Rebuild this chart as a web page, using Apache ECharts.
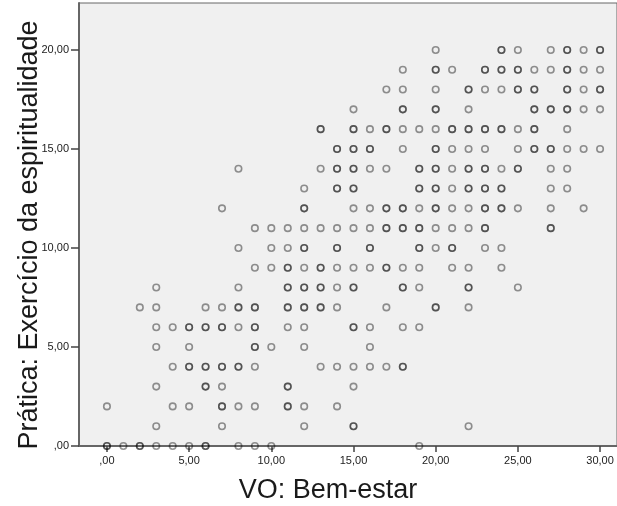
<!DOCTYPE html>
<html>
<head>
<meta charset="utf-8">
<script src="https://cdn.jsdelivr.net/npm/echarts@6/dist/echarts.min.js"></script>
<style>
    html, body { margin: 0; padding: 0; background: #fff; }
    #chart { width: 617px; height: 506px; }
</style>
</head>
<body>
<div id="chart"></div>
<script>
// x values (VO: Bem-estar) per score of Prática; repeated x = overlapping cases (darker ring)
var row20 = [20, 24, 24, 25, 27, 28, 28, 29, 30, 30];
var row19 = [18, 20, 20, 21, 23, 23, 24, 24, 25, 25, 26, 27, 28, 28, 29, 30];
var row18 = [17, 18, 20, 22, 22, 23, 24, 25, 25, 26, 26, 28, 28, 29, 30, 30];
var row17 = [15, 18, 18, 20, 20, 22, 26, 26, 27, 27, 28, 28, 29, 30];
var row16 = [13, 13, 15, 15, 16, 17, 17, 18, 19, 20, 21, 21, 22, 22, 23, 23, 24, 24, 25, 26, 26, 28];
var row15 = [14, 14, 15, 15, 16, 16, 18, 20, 20, 21, 22, 23, 25, 26, 26, 27, 27, 28, 29, 30];
var row14 = [8, 13, 14, 14, 15, 15, 16, 17, 19, 19, 20, 20, 21, 22, 22, 23, 23, 24, 25, 25, 27, 28];
var row13 = [12, 14, 14, 15, 15, 19, 19, 20, 20, 21, 22, 22, 23, 23, 24, 24, 27, 28];
var row12 = [7, 12, 12, 15, 16, 17, 17, 18, 18, 19, 20, 20, 21, 22, 23, 23, 24, 24, 25, 27, 29];
var row11 = [9, 10, 11, 12, 13, 14, 15, 16, 17, 17, 18, 18, 19, 19, 20, 21, 22, 23, 23, 27, 27];
var row10 = [8, 10, 11, 12, 12, 14, 14, 16, 16, 19, 19, 20, 21, 21, 23, 24];
var row9 = [9, 10, 11, 11, 12, 13, 13, 14, 15, 16, 17, 17, 18, 19, 21, 22, 24];
var row8 = [3, 8, 11, 11, 12, 12, 13, 13, 14, 15, 15, 18, 18, 19, 22, 22, 25];
var row7 = [2, 3, 6, 7, 8, 8, 9, 9, 11, 11, 12, 12, 13, 13, 14, 17, 20, 20, 22];
var row6 = [3, 4, 5, 5, 6, 6, 7, 7, 8, 9, 9, 11, 12, 15, 15, 16, 18, 19];
var row5 = [3, 5, 9, 9, 10, 12, 16];
var row4 = [4, 5, 5, 6, 6, 7, 7, 8, 8, 9, 13, 14, 15, 16, 17, 18, 18];
var row3 = [3, 6, 6, 7, 11, 11, 15];
var row2 = [0, 4, 5, 7, 7, 8, 9, 11, 11, 12, 14];
var row1 = [3, 7, 12, 15, 15, 22];
var row0 = [0, 0, 1, 2, 2, 3, 4, 5, 6, 6, 8, 9, 10, 19];

var rows = [row0, row1, row2, row3, row4, row5, row6, row7, row8, row9, row10,
    row11, row12, row13, row14, row15, row16, row17, row18, row19, row20];

var tickValues = [0, 5, 10, 15, 20, 25, 30];
var yTickValues = [0, 5, 10, 15, 20];

function fmt(v) {
    // SPSS style: ,00  5,00  10,00
    var s = v.toFixed(2).replace('.', ',');
    return s.charAt(0) === '0' ? s.substring(1) : s;
}

var points = [];
rows.forEach(function (xs, y) {
    xs.forEach(function (x) {
        points.push([x, y]);
    });
});

var font = "'Liberation Sans', Arial, sans-serif";

var option = {
    animation: false,
    backgroundColor: '#ffffff',
    grid: {
        left: 79,
        right: -2,
        top: 3,
        bottom: 60,
        show: true,
        backgroundColor: '#f0f0f0',
        borderColor: '#666',
        borderWidth: 1
    },
    xAxis: {
        type: 'value',
        min: -1.7,
        max: 31.03,
        splitLine: {show: false},
        axisLine: {onZero: false, lineStyle: {color: '#666', width: 2}},
        axisTick: {show: true, length: 6, customValues: tickValues, lineStyle: {color: '#444', width: 1.5}},
        axisLabel: {
            customValues: tickValues,
            margin: 9,
            fontSize: 11,
            fontFamily: font,
            color: '#222',
            formatter: fmt
        }
    },
    yAxis: {
        type: 'value',
        min: 0,
        max: 22.37,
        splitLine: {show: false},
        axisLine: {onZero: false, lineStyle: {color: '#666', width: 2}},
        axisTick: {show: true, length: 8, customValues: yTickValues, lineStyle: {color: '#444', width: 1.5}},
        axisLabel: {
            customValues: yTickValues,
            margin: 10,
            fontSize: 11,
            fontFamily: font,
            color: '#222',
            formatter: fmt
        }
    },
    graphic: [
        {
            type: 'text',
            x: 328,
            y: 491,
            style: {
                text: 'VO: Bem-estar',
                fontSize: 27,
                fontFamily: font,
                fill: '#1a1a1a',
                textAlign: 'center',
                textVerticalAlign: 'middle'
            }
        },
        {
            type: 'text',
            x: 30,
            y: 235,
            rotation: Math.PI / 2,
            style: {
                text: 'Prática: Exercício da espiritualidade',
                fontSize: 27,
                fontFamily: font,
                fill: '#1a1a1a',
                textAlign: 'center',
                textVerticalAlign: 'middle'
            }
        }
    ],
    series: [
        {
            type: 'scatter',
            data: points,
            symbol: 'circle',
            symbolSize: 6.5,
            itemStyle: {
                color: 'rgba(0,0,0,0)',
                borderColor: 'rgba(0,0,0,0.52)',
                borderWidth: 1.6
            },
            emphasis: {disabled: true}
        }
    ]
};

var myChart = echarts.init(document.getElementById('chart'));
myChart.setOption(option);
</script>
</body>
</html>
